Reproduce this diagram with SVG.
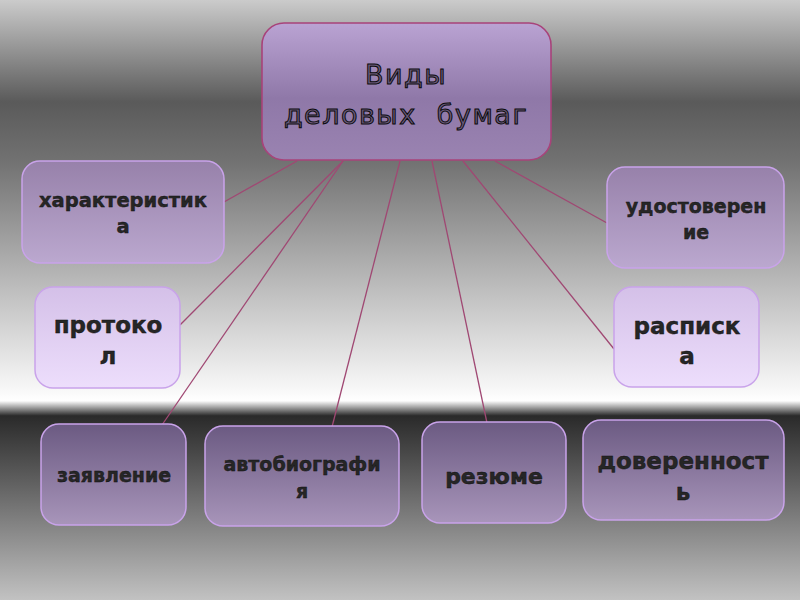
<svg xmlns="http://www.w3.org/2000/svg" width="800" height="600" viewBox="0 0 800 600">
<defs>
<linearGradient id="bg" x1="0" y1="0" x2="0" y2="600" gradientUnits="userSpaceOnUse">
<stop offset="0" stop-color="#cbcbcb"/>
<stop offset="0.17" stop-color="#5a5a5a"/>
<stop offset="0.27" stop-color="#727272"/>
<stop offset="0.5" stop-color="#c4c4c4"/>
<stop offset="0.645" stop-color="#f6f6f6"/>
<stop offset="0.668" stop-color="#ffffff"/>
<stop offset="0.693" stop-color="#2a2a2a"/>
<stop offset="0.8" stop-color="#5e5e5e"/>
<stop offset="1" stop-color="#c2c2c2"/>
</linearGradient>
<linearGradient id="gTop" x1="0" y1="0" x2="0" y2="1">
<stop offset="0" stop-color="#baa3d3"/>
<stop offset="0.55" stop-color="#8f78a8"/>
<stop offset="1" stop-color="#9a83b1"/>
</linearGradient>
<linearGradient id="gMid" x1="0" y1="0" x2="0" y2="1">
<stop offset="0" stop-color="#9781aa"/>
<stop offset="1" stop-color="#bba8cf"/>
</linearGradient>
<linearGradient id="gLight" x1="0" y1="0" x2="0" y2="1">
<stop offset="0" stop-color="#d4c0e8"/>
<stop offset="1" stop-color="#eddefc"/>
</linearGradient>
<linearGradient id="gDark" x1="0" y1="0" x2="0" y2="1">
<stop offset="0" stop-color="#6b5a82"/>
<stop offset="1" stop-color="#a895ba"/>
</linearGradient>
</defs>
<style>
.box{stroke:#c9a3ea;stroke-width:1.5}
.t{font-family:"DejaVu Sans","Noto Sans",sans-serif;font-weight:bold;text-anchor:middle;fill:#262626;stroke:#0e0e0e;stroke-width:0.4}
.tt{font-family:"DejaVu Sans","Noto Sans",sans-serif;text-anchor:middle;fill:#6a5a7c;stroke:#0a0a0a;stroke-width:1;font-size:27px;letter-spacing:1.5px;white-space:pre}
.c line{stroke:#a04873;stroke-width:1.3}
</style>
<rect width="800" height="600" fill="url(#bg)"/>
<g class="c" id="connectors">
<line x1="297" y1="161" x2="224" y2="202"/>
<line x1="343" y1="161" x2="180" y2="325"/>
<line x1="343" y1="161" x2="162" y2="425"/>
<line x1="400" y1="161" x2="332" y2="427"/>
<line x1="432" y1="161" x2="487" y2="423"/>
<line x1="463" y1="161" x2="614" y2="349"/>
<line x1="495" y1="161" x2="607" y2="223"/>
</g>
<g id="n-root">
<rect x="262" y="23" width="289" height="137" rx="22" fill="url(#gTop)" stroke="#a8437a" stroke-width="1.6"/>
<text class="tt" x="406" y="84">Виды</text>
<text class="tt" x="406" y="124" xml:space="preserve">деловых  бумаг</text>
</g>
<g id="n-char">
<rect class="box" x="22" y="161" width="202" height="102" rx="18" fill="url(#gMid)"/>
<text class="t" x="123" y="207" font-size="19.5">характеристик</text>
<text class="t" x="123" y="233" font-size="19.5">а</text>
</g>
<g id="n-prot">
<rect class="box" x="35" y="287" width="145" height="101" rx="18" fill="url(#gLight)"/>
<text class="t" x="108" y="333" font-size="23">протоко</text>
<text class="t" x="108" y="364" font-size="23">л</text>
</g>
<g id="n-udost">
<rect class="box" x="607" y="167" width="177" height="101" rx="18" fill="url(#gMid)"/>
<text class="t" x="696" y="213" font-size="19">удостоверен</text>
<text class="t" x="696" y="239" font-size="19">ие</text>
</g>
<g id="n-rasp">
<rect class="box" x="614" y="287" width="145" height="100" rx="18" fill="url(#gLight)"/>
<text class="t" x="687" y="334" font-size="23">расписк</text>
<text class="t" x="687" y="364" font-size="23">а</text>
</g>
<g id="n-zayav">
<rect class="box" x="41" y="424" width="145" height="101" rx="18" fill="url(#gDark)"/>
<text class="t" x="114" y="482" font-size="19">заявление</text>
</g>
<g id="n-avto">
<rect class="box" x="205" y="426" width="194" height="100" rx="18" fill="url(#gDark)"/>
<text class="t" x="302" y="471" font-size="19">автобиографи</text>
<text class="t" x="302" y="498" font-size="19">я</text>
</g>
<g id="n-rez">
<rect class="box" x="422" y="422" width="144" height="101" rx="18" fill="url(#gDark)"/>
<text class="t" x="494" y="484" font-size="22">резюме</text>
</g>
<g id="n-dover">
<rect class="box" x="583" y="420" width="201" height="100" rx="18" fill="url(#gDark)"/>
<text class="t" x="683" y="469" font-size="23">доверенност</text>
<text class="t" x="683" y="500" font-size="23">ь</text>
</g>
</svg>
